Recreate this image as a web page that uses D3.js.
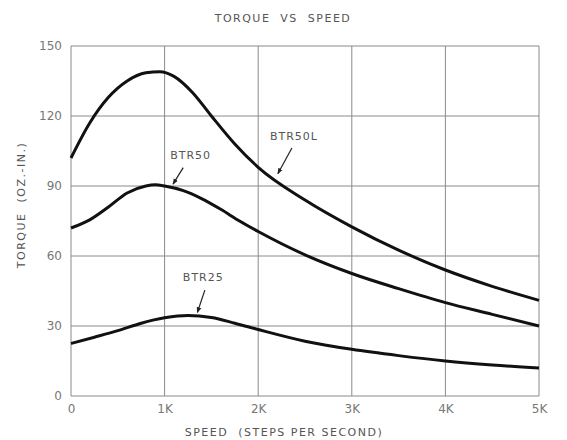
<!DOCTYPE html>
<html>
<head>
<meta charset="utf-8">
<script src="https://cdn.jsdelivr.net/npm/d3@7"></script>
<style>
  body { margin: 0; background: #fff; }
  text { font-family: "DejaVu Sans", sans-serif; fill: #555; }
</style>
</head>
<body>
<div id="chart-area"></div>
<script>

// data (speed in steps/s, torque in oz-in)
let speedTicks = [0, 1000, 2000, 3000, 4000, 5000];
let speedTickLabels = ["0", "1K", "2K", "3K", "4K", "5K"];
let torqueTicks = [0, 30, 60, 90, 120, 150];

let btr50lSpeed  = [0, 200, 400, 600, 800, 950, 1100, 1300, 1500, 1750, 2000, 2500, 3000, 3500, 4000, 4500, 5000];
let btr50lTorque = [102, 117, 128, 135, 138.5, 139, 137, 130, 120, 108, 98, 84, 72.5, 62.5, 54, 47, 41];

let btr50Speed  = [0, 200, 400, 600, 800, 900, 1000, 1200, 1400, 1600, 1800, 2000, 2500, 3000, 3500, 4000, 4500, 5000];
let btr50Torque = [72, 75.5, 81, 87, 90, 90.5, 90, 88, 84.5, 80, 75, 70.5, 60.5, 52.5, 46, 40, 35, 30];

let btr25Speed  = [0, 250, 500, 750, 1000, 1250, 1500, 1750, 2000, 2500, 3000, 3500, 4000, 4500, 5000];
let btr25Torque = [22.5, 25.2, 28, 31.2, 33.5, 34.5, 33.6, 31.2, 28.5, 23.5, 20, 17.3, 15, 13.3, 12];

// label text, arrow tip (speed, torque) and where the text starts
let curveNames = ["BTR50L", "BTR50", "BTR25"];
let labelAt    = [[2210, 94], [1090, 89.5], [1350, 34.5]];
let labelText  = [[2125, 111], [1060, 103], [1195, 50.5]];
let arrowFrom  = [[22, 11], [13, 12], [22, 12]];

let margin = {top: 46, right: 28, bottom: 44, left: 71};
let width = 567 - margin.left - margin.right,
    height = 440 - margin.top - margin.bottom;

let svg = d3.select("#chart-area").append("svg")
    .attr("width", 567)
    .attr("height", 440)
  .append("g")
    .attr("transform", "translate(" + margin.left + "," + margin.top + ")");

let x = d3.scaleLinear().domain([0, 5000]).range([0, 468]);
let y = d3.scaleLinear().domain([0, 150]).range([height, 0]);

// grid
svg.append("g").selectAll("line.v")
    .data(speedTicks)
    .enter().append("line")
    .attr("x1", d => x(d)).attr("x2", d => x(d))
    .attr("y1", y(150)).attr("y2", y(0))
    .attr("stroke", "#8a8a8a").attr("stroke-width", 1);

svg.append("g").selectAll("line.h")
    .data(torqueTicks)
    .enter().append("line")
    .attr("x1", x(0)).attr("x2", width)
    .attr("y1", d => y(d)).attr("y2", d => y(d))
    .attr("stroke", "#8a8a8a").attr("stroke-width", 1);

// axes (labels only, grid is the frame)
let xAxis = d3.axisBottom(x).tickValues(speedTicks)
    .tickFormat((d, i) => speedTickLabels[i]).tickSize(0).tickPadding(8);
let yAxis = d3.axisLeft(y).tickValues(torqueTicks).tickSize(0).tickPadding(9);

let gx = svg.append("g").attr("transform", "translate(0," + height + ")").call(xAxis);
let gy = svg.append("g").call(yAxis);
[gx, gy].forEach(g => {
  g.select(".domain").remove();
  g.selectAll("text").style("font-size", "12px").style("fill", "#777")
   .style("font-family", "DejaVu Sans, sans-serif");
});

// curves
let line = d3.line()
    .x(d => x(d[0]))
    .y(d => y(d[1]))
    .curve(d3.curveMonotoneX);

let series = [
  d3.zip(btr50lSpeed, btr50lTorque),
  d3.zip(btr50Speed, btr50Torque),
  d3.zip(btr25Speed, btr25Torque)
];

svg.selectAll("path.curve")
    .data(series)
    .enter().append("path")
    .attr("class", "curve")
    .attr("d", line)
    .attr("fill", "none")
    .attr("stroke", "#111")
    .attr("stroke-width", 3);

// curve labels with arrows
svg.append("defs").append("marker")
    .attr("id", "arr")
    .attr("viewBox", "0 0 10 10")
    .attr("refX", 9).attr("refY", 5)
    .attr("markerWidth", 5).attr("markerHeight", 5)
    .attr("orient", "auto")
  .append("path")
    .attr("d", "M0,1 L10,5 L0,9 z")
    .attr("fill", "#222");

curveNames.forEach((name, i) => {
  svg.append("text")
      .attr("x", x(labelText[i][0]))
      .attr("y", y(labelText[i][1]))
      .attr("text-anchor", "start")
      .attr("dominant-baseline", "middle")
      .style("font-size", "11px")
      .style("letter-spacing", "1px")
      .text(name);
  let x0 = x(labelText[i][0]) + arrowFrom[i][0], y0 = y(labelText[i][1]) + arrowFrom[i][1];
  let x1 = x(labelAt[i][0]), y1 = y(labelAt[i][1]) - 3;
  svg.append("line")
      .attr("x1", x0).attr("y1", y0)
      .attr("x2", x1).attr("y2", y1)
      .attr("stroke", "#222").attr("stroke-width", 1.2)
      .attr("marker-end", "url(#arr)");
});

// titles
let root = d3.select("svg");
root.append("text")
    .attr("x", 283).attr("y", 19)
    .attr("text-anchor", "middle").attr("dominant-baseline", "middle")
    .style("font-size", "11px").style("letter-spacing", "1.5px")
    .style("white-space", "pre")
    .text("TORQUE  VS  SPEED");

root.append("text")
    .attr("x", 284).attr("y", 433)
    .attr("text-anchor", "middle").attr("dominant-baseline", "middle")
    .style("font-size", "11px").style("letter-spacing", "1.5px")
    .style("white-space", "pre")
    .text("SPEED  (STEPS PER SECOND)");

root.append("text")
    .attr("transform", "translate(22,205) rotate(-90)")
    .attr("text-anchor", "middle").attr("dominant-baseline", "middle")
    .style("font-size", "11px").style("letter-spacing", "1.5px")
    .style("white-space", "pre")
    .text("TORQUE  (OZ.-IN.)");

</script>
</body>
</html>
